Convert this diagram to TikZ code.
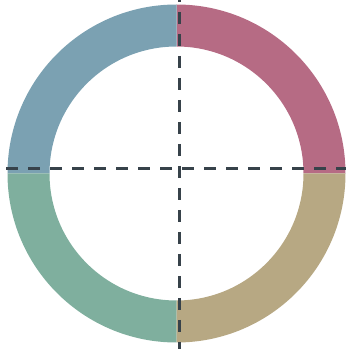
\documentclass[tikz,border=0pt]{standalone}
\usetikzlibrary{calc}
\definecolor{cblue}{HTML}{7BA1B2}
\definecolor{cpink}{HTML}{B66B84}
\definecolor{cgreen}{HTML}{7FAF9E}
\definecolor{ctan}{HTML}{B7A883}
\definecolor{cline}{HTML}{37424A}
\tikzset{
  axisline/.style={draw=cline, line width=3pt, dash pattern=on 12pt off 10pt},
}
\begin{document}
\begin{tikzpicture}[x=1pt,y=1pt]
\useasboundingbox (0,0) rectangle (346,349);
\coordinate (c) at (176.5,175.5);
\def\Ro{169}
\def\Ri{127}
\fill[cpink] ($(c)+(0:\Ro)$) arc[start angle=0,end angle=90,radius=\Ro] -- ($(c)+(90:\Ri)$) arc[start angle=90,end angle=0,radius=\Ri] -- cycle;
\fill[cblue] ($(c)+(90:\Ro)$) arc[start angle=90,end angle=180,radius=\Ro] -- ($(c)+(180:\Ri)$) arc[start angle=180,end angle=90,radius=\Ri] -- cycle;
\fill[cgreen] ($(c)+(180:\Ro)$) arc[start angle=180,end angle=270,radius=\Ro] -- ($(c)+(270:\Ri)$) arc[start angle=270,end angle=180,radius=\Ri] -- cycle;
\fill[ctan] ($(c)+(270:\Ro)$) arc[start angle=270,end angle=360,radius=\Ro] -- ($(c)+(0:\Ri)$) arc[start angle=360,end angle=270,radius=\Ri] -- cycle;
\coordinate (hl) at (6,180);
\coordinate (hr) at (346,180);
\coordinate (vt) at (179,349);
\coordinate (vb) at (179,0);
\draw[axisline] (hl) -- (hr);
\draw[axisline, dash phase=10pt] (vt) -- (vb);
\end{tikzpicture}
\end{document}
